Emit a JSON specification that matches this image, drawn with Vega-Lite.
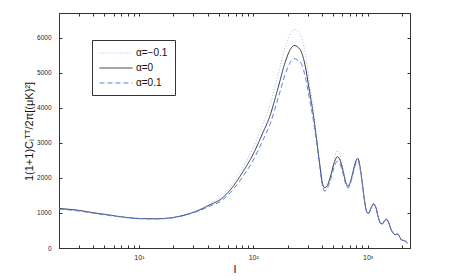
{
  "$schema": "https://vega.github.io/schema/vega-lite/v6.json",
  "width": 351,
  "height": 235,
  "autosize": "none",
  "padding": {"left": 59, "top": 13, "right": 42, "bottom": 32},
  "background": "white",
  "config": {
    "view": {"stroke": "#333333", "strokeWidth": 1},
    "font": "Liberation Sans",
    "axis": {"grid": false, "domainColor": "#333333", "tickColor": "#333333", "labelColor": "#262626", "titleColor": "#111111", "labelFont": "Liberation Sans", "titleFont": "Liberation Sans", "titleFontWeight": "normal", "labelFontSize": 6.5, "tickSize": -3}
  },
  "datasets": {
    "spec": [
      {"l":2,"v":1131,"a":"α=−0.1"},{"l":3,"v":1075,"a":"α=−0.1"},{"l":4,"v":1010,"a":"α=−0.1"},{"l":5,"v":965,"a":"α=−0.1"},{"l":7,"v":890,"a":"α=−0.1"},{"l":10,"v":842,"a":"α=−0.1"},{"l":14,"v":835,"a":"α=−0.1"},{"l":18,"v":852,"a":"α=−0.1"},{"l":22,"v":895,"a":"α=−0.1"},{"l":28,"v":995,"a":"α=−0.1"},{"l":35,"v":1127,"a":"α=−0.1"},{"l":42,"v":1272,"a":"α=−0.1"},{"l":52,"v":1446,"a":"α=−0.1"},{"l":65,"v":1796,"a":"α=−0.1"},{"l":80,"v":2268,"a":"α=−0.1"},{"l":100,"v":2868,"a":"α=−0.1"},{"l":120,"v":3494,"a":"α=−0.1"},{"l":140,"v":4072,"a":"α=−0.1"},{"l":165,"v":4936,"a":"α=−0.1"},{"l":190,"v":5713,"a":"α=−0.1"},{"l":210,"v":6102,"a":"α=−0.1"},{"l":228,"v":6237,"a":"α=−0.1"},{"l":245,"v":6188,"a":"α=−0.1"},{"l":265,"v":5988,"a":"α=−0.1"},{"l":285,"v":5553,"a":"α=−0.1"},{"l":305,"v":4897,"a":"α=−0.1"},{"l":330,"v":4108,"a":"α=−0.1"},{"l":355,"v":3254,"a":"α=−0.1"},{"l":380,"v":2430,"a":"α=−0.1"},{"l":400,"v":1843,"a":"α=−0.1"},{"l":420,"v":1625,"a":"α=−0.1"},{"l":445,"v":1718,"a":"α=−0.1"},{"l":475,"v":2050,"a":"α=−0.1"},{"l":510,"v":2517,"a":"α=−0.1"},{"l":543,"v":2782,"a":"α=−0.1"},{"l":575,"v":2650,"a":"α=−0.1"},{"l":610,"v":2266,"a":"α=−0.1"},{"l":645,"v":1870,"a":"α=−0.1"},{"l":675,"v":1707,"a":"α=−0.1"},{"l":710,"v":1881,"a":"α=−0.1"},{"l":750,"v":2200,"a":"α=−0.1"},{"l":790,"v":2505,"a":"α=−0.1"},{"l":823,"v":2576,"a":"α=−0.1"},{"l":855,"v":2374,"a":"α=−0.1"},{"l":895,"v":1900,"a":"α=−0.1"},{"l":940,"v":1350,"a":"α=−0.1"},{"l":990,"v":1010,"a":"α=−0.1"},{"l":1020,"v":990,"a":"α=−0.1"},{"l":1070,"v":1130,"a":"α=−0.1"},{"l":1130,"v":1260,"a":"α=−0.1"},{"l":1180,"v":1160,"a":"α=−0.1"},{"l":1240,"v":880,"a":"α=−0.1"},{"l":1300,"v":700,"a":"α=−0.1"},{"l":1350,"v":690,"a":"α=−0.1"},{"l":1400,"v":770,"a":"α=−0.1"},{"l":1465,"v":820,"a":"α=−0.1"},{"l":1530,"v":720,"a":"α=−0.1"},{"l":1600,"v":540,"a":"α=−0.1"},{"l":1680,"v":420,"a":"α=−0.1"},{"l":1750,"v":380,"a":"α=−0.1"},{"l":1820,"v":400,"a":"α=−0.1"},{"l":1900,"v":330,"a":"α=−0.1"},{"l":1980,"v":230,"a":"α=−0.1"},{"l":2060,"v":215,"a":"α=−0.1"},{"l":2130,"v":200,"a":"α=−0.1"},{"l":2240,"v":140,"a":"α=−0.1"},

      {"l":2,"v":1125,"a":"α=0"},{"l":3,"v":1070,"a":"α=0"},{"l":4,"v":1005,"a":"α=0"},{"l":5,"v":960,"a":"α=0"},{"l":7,"v":890,"a":"α=0"},{"l":10,"v":842,"a":"α=0"},{"l":14,"v":835,"a":"α=0"},{"l":18,"v":852,"a":"α=0"},{"l":22,"v":895,"a":"α=0"},{"l":28,"v":985,"a":"α=0"},{"l":35,"v":1105,"a":"α=0"},{"l":42,"v":1235,"a":"α=0"},{"l":52,"v":1390,"a":"α=0"},{"l":65,"v":1710,"a":"α=0"},{"l":80,"v":2140,"a":"α=0"},{"l":100,"v":2680,"a":"α=0"},{"l":120,"v":3250,"a":"α=0"},{"l":140,"v":3770,"a":"α=0"},{"l":165,"v":4570,"a":"α=0"},{"l":190,"v":5290,"a":"α=0"},{"l":210,"v":5650,"a":"α=0"},{"l":228,"v":5775,"a":"α=0"},{"l":245,"v":5730,"a":"α=0"},{"l":265,"v":5570,"a":"α=0"},{"l":285,"v":5190,"a":"α=0"},{"l":305,"v":4620,"a":"α=0"},{"l":330,"v":3950,"a":"α=0"},{"l":355,"v":3190,"a":"α=0"},{"l":380,"v":2430,"a":"α=0"},{"l":400,"v":1900,"a":"α=0"},{"l":420,"v":1720,"a":"α=0"},{"l":445,"v":1790,"a":"α=0"},{"l":475,"v":2050,"a":"α=0"},{"l":510,"v":2420,"a":"α=0"},{"l":543,"v":2600,"a":"α=0"},{"l":575,"v":2500,"a":"α=0"},{"l":610,"v":2200,"a":"α=0"},{"l":645,"v":1870,"a":"α=0"},{"l":675,"v":1760,"a":"α=0"},{"l":710,"v":1900,"a":"α=0"},{"l":750,"v":2200,"a":"α=0"},{"l":790,"v":2480,"a":"α=0"},{"l":823,"v":2550,"a":"α=0"},{"l":855,"v":2350,"a":"α=0"},{"l":895,"v":1900,"a":"α=0"},{"l":940,"v":1350,"a":"α=0"},{"l":990,"v":1010,"a":"α=0"},{"l":1020,"v":990,"a":"α=0"},{"l":1070,"v":1130,"a":"α=0"},{"l":1130,"v":1260,"a":"α=0"},{"l":1180,"v":1160,"a":"α=0"},{"l":1240,"v":880,"a":"α=0"},{"l":1300,"v":700,"a":"α=0"},{"l":1350,"v":690,"a":"α=0"},{"l":1400,"v":770,"a":"α=0"},{"l":1465,"v":820,"a":"α=0"},{"l":1530,"v":720,"a":"α=0"},{"l":1600,"v":540,"a":"α=0"},{"l":1680,"v":420,"a":"α=0"},{"l":1750,"v":380,"a":"α=0"},{"l":1820,"v":400,"a":"α=0"},{"l":1900,"v":330,"a":"α=0"},{"l":1980,"v":230,"a":"α=0"},{"l":2060,"v":215,"a":"α=0"},{"l":2130,"v":200,"a":"α=0"},{"l":2240,"v":140,"a":"α=0"},

      {"l":2,"v":1108,"a":"α=0.1"},{"l":3,"v":1054,"a":"α=0.1"},{"l":4,"v":990,"a":"α=0.1"},{"l":5,"v":946,"a":"α=0.1"},{"l":7,"v":881,"a":"α=0.1"},{"l":10,"v":834,"a":"α=0.1"},{"l":14,"v":827,"a":"α=0.1"},{"l":18,"v":843,"a":"α=0.1"},{"l":22,"v":886,"a":"α=0.1"},{"l":28,"v":975,"a":"α=0.1"},{"l":35,"v":1083,"a":"α=0.1"},{"l":42,"v":1198,"a":"α=0.1"},{"l":52,"v":1334,"a":"α=0.1"},{"l":65,"v":1625,"a":"α=0.1"},{"l":80,"v":2012,"a":"α=0.1"},{"l":100,"v":2506,"a":"α=0.1"},{"l":120,"v":3039,"a":"α=0.1"},{"l":140,"v":3525,"a":"α=0.1"},{"l":165,"v":4273,"a":"α=0.1"},{"l":190,"v":4946,"a":"α=0.1"},{"l":210,"v":5283,"a":"α=0.1"},{"l":228,"v":5400,"a":"α=0.1"},{"l":245,"v":5358,"a":"α=0.1"},{"l":265,"v":5236,"a":"α=0.1"},{"l":285,"v":4879,"a":"α=0.1"},{"l":305,"v":4389,"a":"α=0.1"},{"l":330,"v":3792,"a":"α=0.1"},{"l":355,"v":3094,"a":"α=0.1"},{"l":380,"v":2381,"a":"α=0.1"},{"l":400,"v":1824,"a":"α=0.1"},{"l":420,"v":1625,"a":"α=0.1"},{"l":445,"v":1700,"a":"α=0.1"},{"l":475,"v":1948,"a":"α=0.1"},{"l":510,"v":2299,"a":"α=0.1"},{"l":543,"v":2470,"a":"α=0.1"},{"l":575,"v":2388,"a":"α=0.1"},{"l":610,"v":2112,"a":"α=0.1"},{"l":645,"v":1814,"a":"α=0.1"},{"l":675,"v":1707,"a":"α=0.1"},{"l":710,"v":1853,"a":"α=0.1"},{"l":750,"v":2145,"a":"α=0.1"},{"l":790,"v":2418,"a":"α=0.1"},{"l":823,"v":2486,"a":"α=0.1"},{"l":855,"v":2303,"a":"α=0.1"},{"l":895,"v":1862,"a":"α=0.1"},{"l":940,"v":1337,"a":"α=0.1"},{"l":990,"v":1010,"a":"α=0.1"},{"l":1020,"v":990,"a":"α=0.1"},{"l":1070,"v":1130,"a":"α=0.1"},{"l":1130,"v":1260,"a":"α=0.1"},{"l":1180,"v":1160,"a":"α=0.1"},{"l":1240,"v":880,"a":"α=0.1"},{"l":1300,"v":700,"a":"α=0.1"},{"l":1350,"v":690,"a":"α=0.1"},{"l":1400,"v":770,"a":"α=0.1"},{"l":1465,"v":820,"a":"α=0.1"},{"l":1530,"v":720,"a":"α=0.1"},{"l":1600,"v":540,"a":"α=0.1"},{"l":1680,"v":420,"a":"α=0.1"},{"l":1750,"v":380,"a":"α=0.1"},{"l":1820,"v":400,"a":"α=0.1"},{"l":1900,"v":330,"a":"α=0.1"},{"l":1980,"v":230,"a":"α=0.1"},{"l":2060,"v":215,"a":"α=0.1"},{"l":2130,"v":200,"a":"α=0.1"},{"l":2240,"v":140,"a":"α=0.1"}
    ]
  },
  "data": {"name": "spec"},
  "layer": [
    {
      "mark": {"type": "line", "strokeWidth": 1, "interpolate": "monotone"},
      "encoding": {
        "x": {"field": "l", "type": "quantitative",
          "scale": {"type": "log", "domain": [2, 2350], "nice": false},
          "axis": {"orient": "bottom", "values": [2,3,4,5,6,7,8,9,10,20,30,40,50,60,70,80,90,100,200,300,400,500,600,700,800,900,1000,2000],
            "labelExpr": "datum.value == 10 ? '10¹' : datum.value == 100 ? '10²' : datum.value == 1000 ? '10³' : ''",
            "labelFontSize": 7, "labelPadding": 8, "labelFlush": false, "labelOverlap": false, "title": "l", "titleFontSize": 11, "titlePadding": 3, "titleColor": "#000000"}},
        "y": {"field": "v", "type": "quantitative",
          "scale": {"domain": [0, 6700], "nice": false, "zero": true},
          "axis": {"orient": "left", "values": [0,1000,2000,3000,4000,5000,6000], "format": "d", "labelPadding": 11,
            "title": "1(1+1)Cₗᵀᵀ/2π[(μK)²]", "titleFontSize": 11, "titleX": -25, "titleY": 118}},
        "color": {"field": "a", "type": "nominal",
          "scale": {"domain": ["α=−0.1", "α=0", "α=0.1"], "range": ["#a9b2ff", "#333333", "#5f80f2"]},
          "legend": {"title": null, "orient": "none", "legendX": 33, "legendY": 27,
            "strokeColor": "#333333", "fillColor": "white", "padding": 7,
            "symbolType": "M-1,0H5", "symbolSize": 121, "symbolStrokeWidth": 1, "labelOffset": 25,
            "labelFontSize": 10, "labelFont": "Liberation Sans", "labelColor": "#111111", "rowPadding": 4}},
        "strokeDash": {"field": "a", "type": "nominal",
          "scale": {"domain": ["α=−0.1", "α=0", "α=0.1"], "range": [[1, 2], [1, 0], [5, 3]]},
          "legend": {"title": null, "orient": "none", "legendX": 33, "legendY": 27,
            "strokeColor": "#333333", "fillColor": "white", "padding": 7,
            "symbolType": "M-1,0H5", "symbolSize": 121, "symbolStrokeWidth": 1, "labelOffset": 25,
            "labelFontSize": 10, "labelFont": "Liberation Sans", "labelColor": "#111111", "rowPadding": 4}}
      }
    },
    {
      "mark": {"type": "line", "opacity": 0},
      "encoding": {
        "x": {"field": "l", "type": "quantitative",
          "axis": {"orient": "top", "values": [2,3,4,5,6,7,8,9,10,20,30,40,50,60,70,80,90,100,200,300,400,500,600,700,800,900,1000,2000], "labels": false, "title": null}},
        "y": {"field": "v", "type": "quantitative",
          "axis": {"orient": "right", "values": [0,1000,2000,3000,4000,5000,6000], "labels": false, "title": null}},
        "detail": {"field": "a", "type": "nominal"}
      }
    }
  ],
  "resolve": {"axis": {"x": "independent", "y": "independent"}}
}
